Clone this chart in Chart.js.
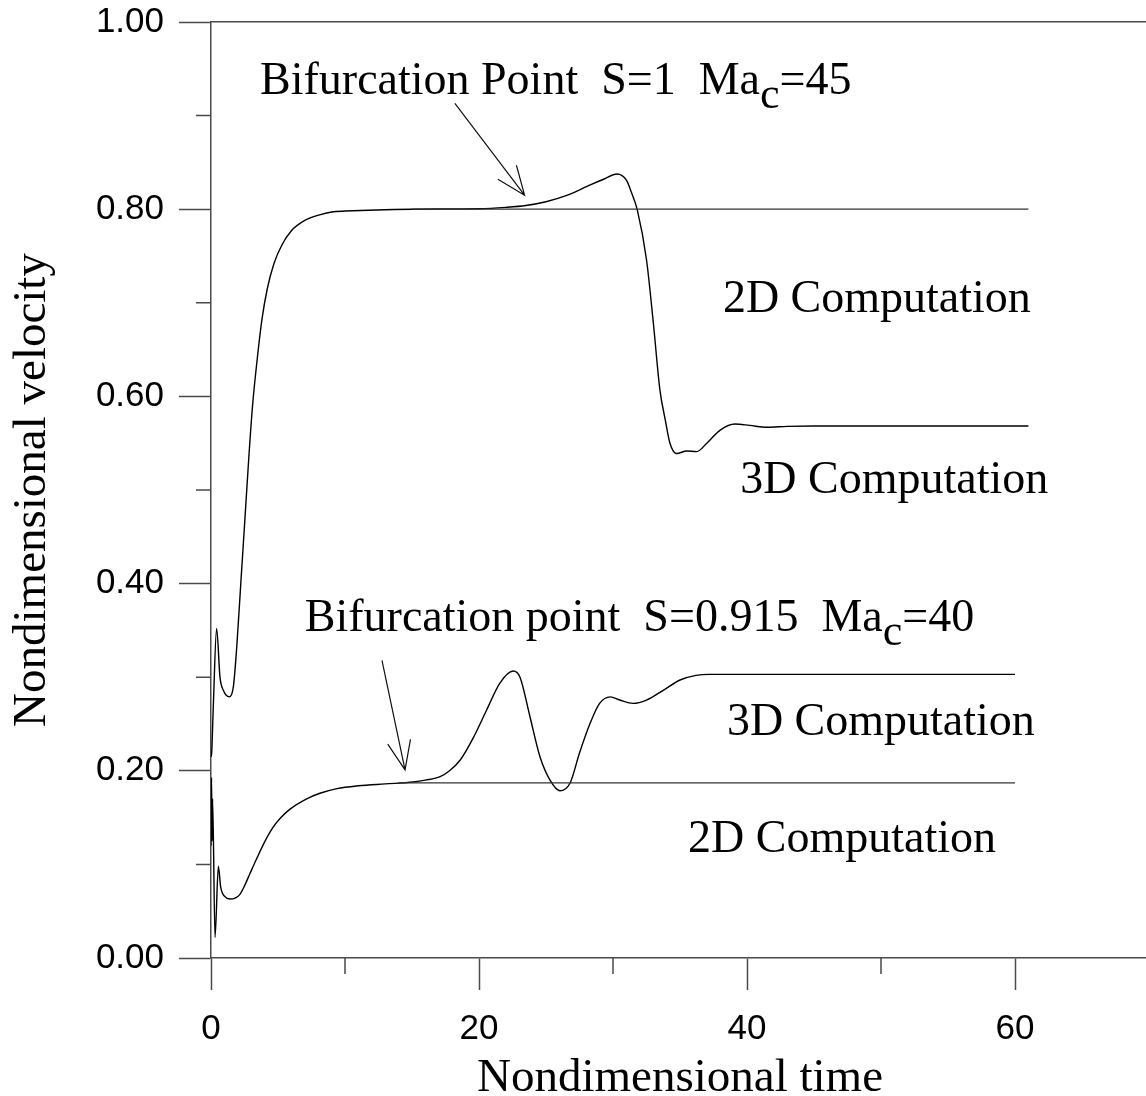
<!DOCTYPE html>
<html>
<head>
<meta charset="utf-8">
<script src="https://cdn.jsdelivr.net/npm/chart.js@4.4.1/dist/chart.umd.min.js"></script>
<style>
  html, body { margin: 0; padding: 0; background: #fff; overflow: hidden; }
  #wrap { width: 1149px; height: 1096px; }
</style>
</head>
<body>
<div id="wrap"><canvas id="chart" width="1149" height="1096"></canvas></div>
<script>
'use strict';

// S=1 case (upper pair of curves)
var timeS1_3D = [0, 0.05, 0.17, 0.42, 0.67, 0.92, 1.37, 1.67, 1.92, 2.24, 2.5, 2.8, 3.1, 3.45, 3.8, 4.2, 4.7, 5.3, 6.0, 7.0, 8.1, 9.0, 10, 15, 20, 22, 23.5, 25, 26.6, 28.3, 29.3, 30.3, 31.0, 31.4, 31.8, 32.5, 33.0, 33.5, 33.9, 34.25, 34.75, 35.5, 36.25, 37.0, 38.0, 39.1, 40.2, 41.5, 43, 45, 61];
var velS1_3D  = [0.215, 0.219, 0.268, 0.352, 0.300, 0.286, 0.279, 0.290, 0.332, 0.404, 0.462, 0.530, 0.590, 0.640, 0.682, 0.715, 0.742, 0.762, 0.777, 0.788, 0.794, 0.797, 0.798, 0.800, 0.8005, 0.802, 0.804, 0.808, 0.815, 0.826, 0.832, 0.8376, 0.831, 0.817, 0.800, 0.746, 0.680, 0.607, 0.575, 0.550, 0.539, 0.5417, 0.541, 0.550, 0.564, 0.5705, 0.569, 0.567, 0.568, 0.5684, 0.5684];
var timeS1_2D = [15, 61];
var velS1_2D  = [0.800, 0.800];

// S=0.915 case (lower pair of curves)
var timeS2_3D = [0, 0.04, 0.08, 0.12, 0.3, 0.55, 0.72, 1.04, 1.42, 1.8, 2.16, 2.5, 2.9, 3.5, 4.15, 4.6, 5.15, 5.9, 7.14, 8.13, 9.4, 11, 13, 15.1, 16, 17.1, 17.8, 18.6, 19.6, 20.57, 21.57, 22.56, 23.06, 23.8, 24.55, 25.3, 26.04, 26.8, 27.5, 28.3, 29.0, 29.8, 30.5, 31.5, 32.5, 33.75, 35.0, 36.2, 37.2, 60];
var velS2_3D  = [0.120, 0.193, 0.125, 0.170, 0.022, 0.098, 0.076, 0.0655, 0.063, 0.064, 0.068, 0.077, 0.090, 0.109, 0.128, 0.139, 0.149, 0.159, 0.170, 0.176, 0.181, 0.184, 0.186, 0.188, 0.190, 0.1937, 0.200, 0.2115, 0.236, 0.265, 0.294, 0.3066, 0.300, 0.258, 0.215, 0.190, 0.1787, 0.187, 0.219, 0.251, 0.272, 0.279, 0.2756, 0.272, 0.2756, 0.286, 0.297, 0.302, 0.303, 0.303];
var timeS2_2D = [14, 60];
var velS2_2D  = [0.187, 0.187];

// axis ticks
var xTicks = [0, 20, 40, 60];
var xMinorTicks = [10, 30, 50];
var yTicks = [0, 0.2, 0.4, 0.6, 0.8, 1.0];
var yMinorTicks = [0.1, 0.3, 0.5, 0.7, 0.9];

var toPoints = function(xs, ys) {
  return xs.map(function(x, i) { return {x: x, y: ys[i]}; });
};

var axisColor = '#4a4a4a';
var serif = '"Liberation Serif", "Times New Roman", serif';
var sans = '"Liberation Sans", Arial, sans-serif';

// labels and arrows, placed in data units
var notes = [
  {t: 3.66, v: 0.923, parts: ['Bifurcation Point  S=1  Ma', 'c', '=45']},
  {t: 7.0, v: 0.349, parts: ['Bifurcation point  S=0.915  Ma', 'c', '=40']},
  {t: 38.2, v: 0.69, parts: ['2D Computation']},
  {t: 39.5, v: 0.497, parts: ['3D Computation']},
  {t: 38.5, v: 0.238, parts: ['3D Computation']},
  {t: 35.6, v: 0.113, parts: ['2D Computation']}
];
var arrows = [
  {t0: 18.2, v0: 0.913, t1: 23.4, v1: 0.815},
  {t0: 12.76, v0: 0.318, t1: 14.48, v1: 0.201}
];

var decorPlugin = {
  id: 'decor',
  afterDraw: function(chart) {
    var ctx = chart.ctx;
    var xs = chart.scales.x, ys = chart.scales.y;
    var area = chart.chartArea;
    ctx.save();
    // minor ticks
    ctx.strokeStyle = axisColor;
    ctx.lineWidth = 1.5;
    ctx.beginPath();
    yMinorTicks.forEach(function(v) {
      var py = ys.getPixelForValue(v);
      ctx.moveTo(area.left - 15, py);
      ctx.lineTo(area.left, py);
    });
    xMinorTicks.forEach(function(t) {
      var px = xs.getPixelForValue(t);
      ctx.moveTo(px, area.bottom);
      ctx.lineTo(px, area.bottom + 16);
    });
    ctx.stroke();

    // text labels
    ctx.fillStyle = '#000';
    ctx.textBaseline = 'alphabetic';
    ctx.textAlign = 'left';
    notes.forEach(function(n) {
      var px = xs.getPixelForValue(n.t);
      var py = ys.getPixelForValue(n.v);
      ctx.font = '46px ' + serif;
      ctx.fillText(n.parts[0], px, py);
      px += ctx.measureText(n.parts[0]).width;
      if (n.parts.length > 1) {
        ctx.font = '44px ' + serif;
        ctx.fillText(n.parts[1], px, py + 14);
        px += ctx.measureText(n.parts[1]).width;
        ctx.font = '46px ' + serif;
        ctx.fillText(n.parts[2], px, py);
      }
    });

    // arrows
    ctx.strokeStyle = '#111';
    ctx.lineWidth = 1.2;
    arrows.forEach(function(a) {
      var x0 = xs.getPixelForValue(a.t0), y0 = ys.getPixelForValue(a.v0);
      var x1 = xs.getPixelForValue(a.t1), y1 = ys.getPixelForValue(a.v1);
      var ang = Math.atan2(y0 - y1, x0 - x1);
      var len = 31, spread = 22 * Math.PI / 180;
      ctx.beginPath();
      ctx.moveTo(x0, y0);
      ctx.lineTo(x1, y1);
      ctx.moveTo(x1 + len * Math.cos(ang - spread), y1 + len * Math.sin(ang - spread));
      ctx.lineTo(x1, y1);
      ctx.lineTo(x1 + len * Math.cos(ang + spread), y1 + len * Math.sin(ang + spread));
      ctx.stroke();
    });
    ctx.restore();
  }
};

var lineSet = function(label, xs, ys, color, width) {
  return {
    label: label,
    data: toPoints(xs, ys),
    borderColor: color,
    borderWidth: width,
    pointRadius: 0,
    fill: false,
    cubicInterpolationMode: 'monotone'
  };
};

new Chart(document.getElementById('chart'), {
  type: 'line',
  data: {
    datasets: [
      lineSet('2D S=1', timeS1_2D, velS1_2D, '#333', 1.2),
      lineSet('3D S=1', timeS1_3D, velS1_3D, '#000', 1.4),
      lineSet('2D S=0.915', timeS2_2D, velS2_2D, '#333', 1.2),
      lineSet('3D S=0.915', timeS2_3D, velS2_3D, '#000', 1.4)
    ]
  },
  options: {
    responsive: false,
    devicePixelRatio: 1,
    animation: false,
    layout: {padding: 0},
    plugins: {legend: {display: false}, tooltip: {enabled: false}},
    scales: {
      x: {
        type: 'linear',
        position: 'bottom',
        min: 0,
        max: 70,
        afterBuildTicks: function(scale) {
          scale.ticks = xTicks.map(function(v) { return {value: v}; });
        },
        afterFit: function(scale) {
          scale.height = 138;
          scale.paddingLeft = 0;
          scale.paddingRight = 0;
        },
        grid: {drawOnChartArea: false, drawTicks: true, tickLength: 32, tickColor: axisColor, tickWidth: 1.5},
        border: {display: true, color: axisColor, width: 1.5},
        ticks: {color: '#000', padding: 18, font: {family: sans, size: 35}, maxRotation: 0},
        title: {display: true, text: 'Nondimensional time', color: '#000', padding: 0, font: {family: serif, size: 47, lineHeight: 0.75}}
      },
      xTop: {
        type: 'linear',
        position: 'top',
        min: 0,
        max: 70,
        afterFit: function(scale) { scale.height = 22; },
        grid: {display: false},
        border: {display: true, color: axisColor, width: 1.5},
        ticks: {display: false}
      },
      y: {
        type: 'linear',
        min: 0,
        max: 1,
        afterBuildTicks: function(scale) {
          scale.ticks = yTicks.map(function(v) { return {value: v}; });
        },
        afterFit: function(scale) {
          scale.width = 211;
          scale.paddingTop = 0;
          scale.paddingBottom = 0;
        },
        grid: {drawOnChartArea: false, drawTicks: true, tickLength: 32, tickColor: axisColor, tickWidth: 1.5},
        border: {display: true, color: axisColor, width: 1.5},
        ticks: {
          color: '#000',
          padding: 15,
          font: {family: sans, size: 35},
          callback: function(v) { return Number(v).toFixed(2); }
        },
        title: {display: true, text: 'Nondimensional velocity', color: '#000', padding: {top: 4, bottom: 0}, font: {family: serif, size: 47}}
      }
    }
  },
  plugins: [decorPlugin]
});
</script>
</body>
</html>
